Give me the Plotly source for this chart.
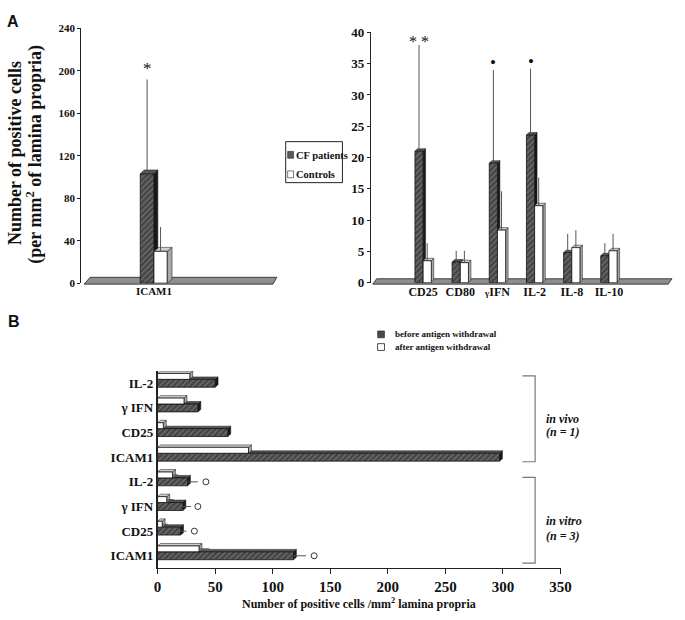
import plotly.graph_objects as go

W, H = 685, 620
SERIF = "Liberation Serif"

# ---------------- data ----------------
# Panel A (left): ICAM1
a1_cats = ["ICAM1"]
a1_cf = [103]
a1_cf_err = [192]
a1_ctrl = [30]
a1_ctrl_err = [53]
a1_marks = ["*"]

# Panel A (right)
a2_cats = ["CD25", "CD80", "<span style='font-size:9px'>γ</span>IFN", "IL-2", "IL-8", "IL-10"]
a2_cf = [21.0, 3.3, 19.1, 23.6, 4.8, 4.3]
a2_cf_err = [38.0, 5.1, 34.0, 34.2, 7.8, 6.3]
a2_ctrl = [3.5, 3.2, 8.4, 12.3, 5.6, 5.1]
a2_ctrl_err = [6.3, 5.1, 14.6, 16.8, 8.4, 7.8]
a2_marks = ["* *", "", "•", "•", "", ""]

# Panel B (listed bottom to top)
b_cats = ["ICAM1", "CD25", "γ IFN", "IL-2", "ICAM1", "CD25", "γ IFN", "IL-2"]
b_before = [118, 20, 22, 26, 297, 61, 35, 50]
b_before_err = [129, 25, 29, 35, None, None, None, None]
b_after = [36, 4, 8, 13, 79, 5, 23, 28]
b_after_err = [45, 9, 14, 18, None, None, None, None]
b_sig = [136, 32, 35, 42, None, None, None, None]
b_ticks = [0, 50, 100, 150, 200, 250, 300, 350]


def P(px, py):
    return px / W, 1 - py / H


# ---------------- layout geometry ----------------
A1_X = (79, 280); A1_Y = (283, 22); A1_XR = [-1.486, 2.534]; A1_YR = [0, 240]
A2_X = (375, 685); A2_Y = (282.5, 26); A2_XR = [-1.408, 6.75]; A2_YR = [0, 40]
B_X = (157, 569); B_Y = (575, 373); B_XR = [0, 350]; B_YR = [-0.5, 7.5]


def upx(rng, span):  # data units per pixel
    return (rng[1] - rng[0]) / abs(span[1] - span[0])


dark_marker = dict(color="#474747", line=dict(color="#111", width=0.8),
                   pattern=dict(shape="/", fgcolor="#a0a0a0", bgcolor="#454545",
                                size=4, solidity=0.3))
white_marker = dict(color="white", line=dict(color="#111", width=0.8))


def err(vals, errs):
    plus = [(e - v) if e is not None else 0 for v, e in zip(vals, errs)]
    return dict(type="data", symmetric=False, array=plus, arrayminus=[0] * len(vals),
                color="#555", thickness=1, width=0)


fig = go.Figure()
shapes = []


def vbar(xa, ya, vals, errs, off, wid, marker, dxp, dyp, xr, xs, yr, ys, side_c, top_c):
    pos = list(range(len(vals)))
    fig.add_trace(go.Bar(x=pos, y=vals, offset=off, width=wid, marker=marker,
                         error_y=err(vals, errs), xaxis=xa, yaxis=ya,
                         showlegend=False, hoverinfo="skip"))
    dx = dxp * upx(xr, xs)
    dy = dyp * upx(yr, ys)
    for p, v in zip(pos, vals):
        x0 = p + off; x1 = x0 + wid
        shapes.append(dict(type="path", layer="below", xref=xa, yref=ya,
                           path=f"M{x1},0 L{x1},{v} L{x1+dx},{v+dy} L{x1+dx},{dy} Z",
                           fillcolor=side_c, line=dict(color="#111", width=0.5)))
        shapes.append(dict(type="path", layer="below", xref=xa, yref=ya,
                           path=f"M{x0},{v} L{x1},{v} L{x1+dx},{v+dy} L{x0+dx},{v+dy} Z",
                           fillcolor=top_c, line=dict(color="#111", width=0.5)))


# platforms (baseline plates) in panel A
def plate(x0, x1, ytop, ybot, slant):
    a = P(x0, ybot); b = P(x0 + slant, ytop); c = P(x1, ytop); d = P(x1 - 4, ybot)
    shapes.append(dict(type="path", layer="below", xref="paper", yref="paper",
                       path=f"M{a[0]},{a[1]} L{b[0]},{b[1]} L{c[0]},{c[1]} L{d[0]},{d[1]} Z",
                       fillcolor="#8e8e8e", line=dict(color="#222", width=0.8)))


plate(82, 279, 277, 284, 6)
plate(377, 683, 278.5, 284, 4)

# A1 bars
vbar("x", "y", a1_cf, a1_cf_err, -0.28, 0.28, dark_marker, 4, 4, A1_XR, A1_X, A1_YR, A1_Y, "#1a1a1a", "#555555")
vbar("x", "y", a1_ctrl, a1_ctrl_err, 0.0, 0.27, white_marker, 5, 4, A1_XR, A1_X, A1_YR, A1_Y, "#a8a8a8", "#cfcfcf")
# A2 bars
vbar("x2", "y2", a2_cf, a2_cf_err, -0.22, 0.22, dark_marker, 2.5, 2.5, A2_XR, A2_X, A2_YR, A2_Y, "#1a1a1a", "#555555")
vbar("x2", "y2", a2_ctrl, a2_ctrl_err, 0.0, 0.22, white_marker, 2.5, 2.5, A2_XR, A2_X, A2_YR, A2_Y, "#a8a8a8", "#cfcfcf")

# B bars (horizontal)
bpos = list(range(len(b_cats)))


def hbar(vals, errs, off, wid, marker, side_c, top_c):
    fig.add_trace(go.Bar(y=bpos, x=vals, orientation="h", offset=off, width=wid,
                         marker=marker, error_x=err(vals, errs),
                         xaxis="x3", yaxis="y3", showlegend=False, hoverinfo="skip"))
    dx = 3 * upx(B_XR, B_X)
    dy = 2.5 * upx(B_YR, B_Y)
    for p, v in zip(bpos, vals):
        y0 = p + off; y1 = y0 + wid
        shapes.append(dict(type="path", layer="below", xref="x3", yref="y3",
                           path=f"M{v},{y0} L{v},{y1} L{v+dx},{y1+dy} L{v+dx},{y0+dy} Z",
                           fillcolor=side_c, line=dict(color="#111", width=0.5)))
        shapes.append(dict(type="path", layer="below", xref="x3", yref="y3",
                           path=f"M0,{y1} L{v},{y1} L{v+dx},{y1+dy} L{dx},{y1+dy} Z",
                           fillcolor=top_c, line=dict(color="#111", width=0.5)))


hbar(b_before, b_before_err, -0.16, 0.32, dark_marker, "#1a1a1a", "#555555")
hbar(b_after, b_after_err, 0.16, 0.24, white_marker, "#a8a8a8", "#cfcfcf")

fig.add_trace(go.Scatter(x=b_sig, y=bpos, mode="markers",
                         marker=dict(symbol="circle-open", size=6, color="#333", line=dict(width=1)),
                         xaxis="x3", yaxis="y3", showlegend=False, hoverinfo="skip"))

annotations = []
# significance marks in panel A
for i, (m, e) in enumerate(zip(a1_marks, a1_cf_err)):
    if m:
        annotations.append(dict(x=i - 0.14, y=e, xref="x", yref="y", text=m, showarrow=False,
                                yanchor="middle", yshift=11, font=dict(family=SERIF, size=17, color="#111")))
for i, (m, e) in enumerate(zip(a2_marks, a2_cf_err)):
    if m:
        fs = 16 if m.startswith("*") else 17
        ys = 3 if m.startswith("*") else 7
        annotations.append(dict(x=i - 0.11, y=e, xref="x2", yref="y2", text=m, showarrow=False,
                                yanchor="middle", yshift=ys, font=dict(family=SERIF, size=fs, color="#111")))


def txt(px, py, s, size, anchor="center", angle=0, family=SERIF, weight="bold", color="#111"):
    x, y = P(px, py)
    annotations.append(dict(x=x, y=y, xref="paper", yref="paper", text=s, showarrow=False,
                            xanchor=anchor, yanchor="middle", textangle=angle,
                            font=dict(family=family, size=size, color=color, weight=weight)))


txt(9, 15, "A", 16, family="Liberation Sans")
txt(10, 322, "B", 16, family="Liberation Sans")
txt(12, 150, "Number of positive cells", 18, angle=-90)
txt(32, 151, "(per mm<sup>2</sup> of lamina propria)", 18, angle=-90)

# legend A
shapes.append(dict(type="rect", xref="paper", yref="paper",
                   x0=P(288, 0)[0], x1=P(346, 0)[0], y0=P(0, 180)[1], y1=P(0, 138)[1],
                   line=dict(color="#222", width=1), fillcolor="white"))
shapes.append(dict(type="rect", xref="paper", yref="paper",
                   x0=P(290, 0)[0], x1=P(296, 0)[0], y0=P(0, 155)[1], y1=P(0, 148)[1],
                   line=dict(color="#222", width=0.6), fillcolor="#5a5a5a"))
shapes.append(dict(type="rect", xref="paper", yref="paper",
                   x0=P(290, 0)[0], x1=P(296, 0)[0], y0=P(0, 175)[1], y1=P(0, 168)[1],
                   line=dict(color="#222", width=0.6), fillcolor="white"))
txt(297, 152, "CF patients", 10.5, anchor="left")
txt(297, 172, "Controls", 10.5, anchor="left")

# legend B
shapes.append(dict(type="rect", xref="paper", yref="paper",
                   x0=P(382, 0)[0], x1=P(389, 0)[0], y0=P(0, 339)[1], y1=P(0, 332)[1],
                   line=dict(color="#222", width=0.6), fillcolor="#4a4a4a"))
shapes.append(dict(type="rect", xref="paper", yref="paper",
                   x0=P(382, 0)[0], x1=P(389, 0)[0], y0=P(0, 352)[1], y1=P(0, 345)[1],
                   line=dict(color="#222", width=0.8), fillcolor="white"))
txt(398, 335.5, "before antigen withdrawal", 9, anchor="left")
txt(398, 348.5, "after antigen withdrawal", 9, anchor="left")

# brackets
for top, bot in [(378, 466), (482, 570)]:
    a = P(530, top); b = P(543, top); c = P(543, bot); d = P(530, bot)
    shapes.append(dict(type="path", xref="paper", yref="paper",
                       path=f"M{a[0]},{a[1]} L{b[0]},{b[1]} L{c[0]},{c[1]} L{d[0]},{d[1]}",
                       line=dict(color="#777", width=1.2)))
txt(552, 422, "<i>in vivo</i>", 12, anchor="left")
txt(552, 436, "<i>(n = 1)</i>", 12, anchor="left")
txt(552, 527, "<i>in vitro</i>", 12, anchor="left")
txt(552, 542, "<i>(n = 3)</i>", 12, anchor="left")

txt(363, 611, "Number of positive cells /mm<sup>2</sup> lamina propria", 12)


def dom_x(span):
    return [span[0] / W, span[1] / W]


def dom_y(span):
    return [1 - span[0] / H, 1 - span[1] / H]


def bold(s):
    return dict(family=SERIF, size=s, color="#111", weight="bold")


fig.update_layout(
    width=W, height=H, margin=dict(l=0, r=0, t=0, b=0),
    paper_bgcolor="white", plot_bgcolor="rgba(0,0,0,0)",
    barmode="overlay", showlegend=False,
    xaxis=dict(domain=dom_x(A1_X), range=A1_XR, anchor="y", tickvals=list(range(len(a1_cats))),
               ticktext=a1_cats, showline=False, ticks="", showgrid=False, zeroline=False,
               tickfont=bold(11)),
    yaxis=dict(domain=dom_y(A1_Y), range=A1_YR, anchor="x", tickvals=[0, 40, 80, 120, 160, 200, 240],
               showline=True, linecolor="#222", linewidth=1, ticks="outside", ticklen=3,
               tickcolor="#222", showgrid=False, zeroline=False, tickfont=bold(11)),
    xaxis2=dict(domain=dom_x(A2_X), range=A2_XR, anchor="y2", tickvals=list(range(len(a2_cats))),
                ticktext=a2_cats, showline=False, ticks="", showgrid=False, zeroline=False,
                tickfont=bold(12)),
    yaxis2=dict(domain=dom_y(A2_Y), range=A2_YR, anchor="x2", dtick=5, tick0=0,
                showline=True, linecolor="#222", linewidth=1, ticks="outside", ticklen=3,
                tickcolor="#222", showgrid=False, zeroline=False, tickfont=bold(13)),
    xaxis3=dict(domain=dom_x(B_X), range=B_XR, anchor="y3", tickvals=b_ticks,
                showline=True, linecolor="#222", linewidth=1, ticks="outside", ticklen=5,
                tickcolor="#222", showgrid=False, zeroline=False, tickfont=bold(15)),
    yaxis3=dict(domain=dom_y(B_Y), range=B_YR, anchor="x3", tickvals=bpos, ticktext=b_cats,
                showline=True, linecolor="#222", linewidth=1.5, ticks="", showgrid=False,
                zeroline=False, tickfont=bold(13)),
    shapes=shapes, annotations=annotations,
)

fig.write_html("out.html", config={"displayModeBar": False},
               post_script="document.body.style.margin='0';document.body.style.overflow='hidden';")
